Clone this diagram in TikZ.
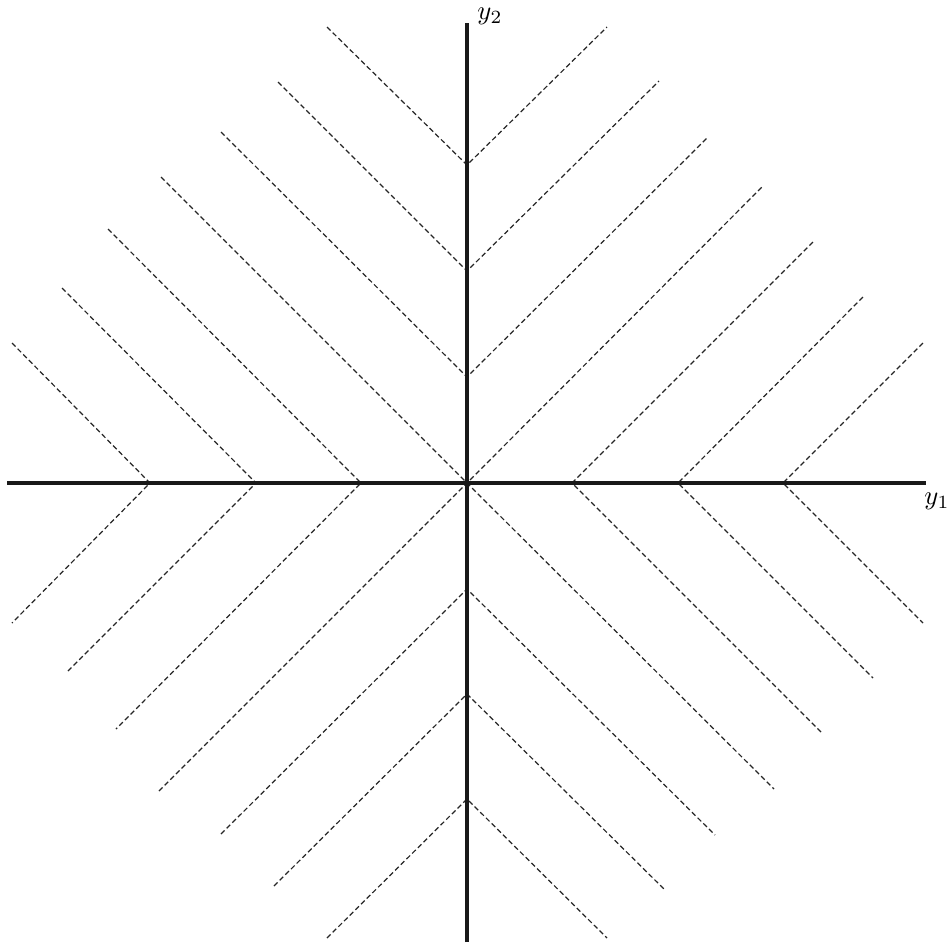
\documentclass[tikz,border=0pt]{standalone}
\begin{document}
\begin{tikzpicture}[x=0.375pt,y=-0.375pt,
  axisline/.style={line width=1.2pt,black!90},
  level/.style={line width=0.45pt,black!85,dash pattern=on 1.9pt off 1.1pt}]
\useasboundingbox (0,0) rectangle (950,944);
% axis end points
\coordinate (xl) at (7,483);
\coordinate (xr) at (926,483);
\coordinate (yt) at (467,23);
\coordinate (yb) at (467,942);
% vertices
\coordinate (O) at (467,483);
\coordinate (A3) at (467,165);
\coordinate (A2) at (467,271);
\coordinate (A1) at (467,377);
\coordinate (B1) at (467,589);
\coordinate (B2) at (467,694);
\coordinate (B3) at (467,799);
\coordinate (L3) at (150,483);
\coordinate (L2) at (256,483);
\coordinate (L1) at (361,483);
\coordinate (R1) at (572,483);
\coordinate (R2) at (678,483);
\coordinate (R3) at (783,483);
% free ends
\coordinate (A3l) at (327,27);  \coordinate (A3r) at (607,27);
\coordinate (A2l) at (278,82);  \coordinate (A2r) at (659,81);
\coordinate (A1l) at (221,132); \coordinate (A1r) at (707,138);
\coordinate (Oul) at (161,177); \coordinate (Our) at (762,187);
\coordinate (Odl) at (159,791); \coordinate (Odr) at (774,789);
\coordinate (L1u) at (108,229); \coordinate (L1d) at (116,729);
\coordinate (L2u) at (62,288);  \coordinate (L2d) at (68,671);
\coordinate (L3u) at (12,343);  \coordinate (L3d) at (12,623);
\coordinate (R1u) at (813,242); \coordinate (R1d) at (821,732);
\coordinate (R2u) at (863,297); \coordinate (R2d) at (873,678);
\coordinate (R3u) at (923,343); \coordinate (R3d) at (923,623);
\coordinate (B1l) at (221,834); \coordinate (B1r) at (715,835);
\coordinate (B2l) at (274,886); \coordinate (B2r) at (665,890);
\coordinate (B3l) at (327,938); \coordinate (B3r) at (607,938);
% dashed level lines
\foreach \v/\a/\b in {A3/A3l/A3r, A2/A2l/A2r, A1/A1l/A1r, B1/B1l/B1r, B2/B2l/B2r, B3/B3l/B3r,
  L1/L1u/L1d, L2/L2u/L2d, L3/L3u/L3d, R1/R1u/R1d, R2/R2u/R2d, R3/R3u/R3d}
  \draw[level] (\a) -- (\v) -- (\b);
\draw[level] (Oul) -- (O) -- (Odr);
\draw[level] (Odl) -- (O) -- (Our);
% axes
\draw[axisline] (xl) -- (xr);
\draw[axisline] (yb) -- (yt);
\node[inner sep=0pt] (ly2) at (490,16) {$y_2$};
\node[inner sep=0pt] (ly1) at (937,501) {$y_1$};
\end{tikzpicture}
\end{document}
